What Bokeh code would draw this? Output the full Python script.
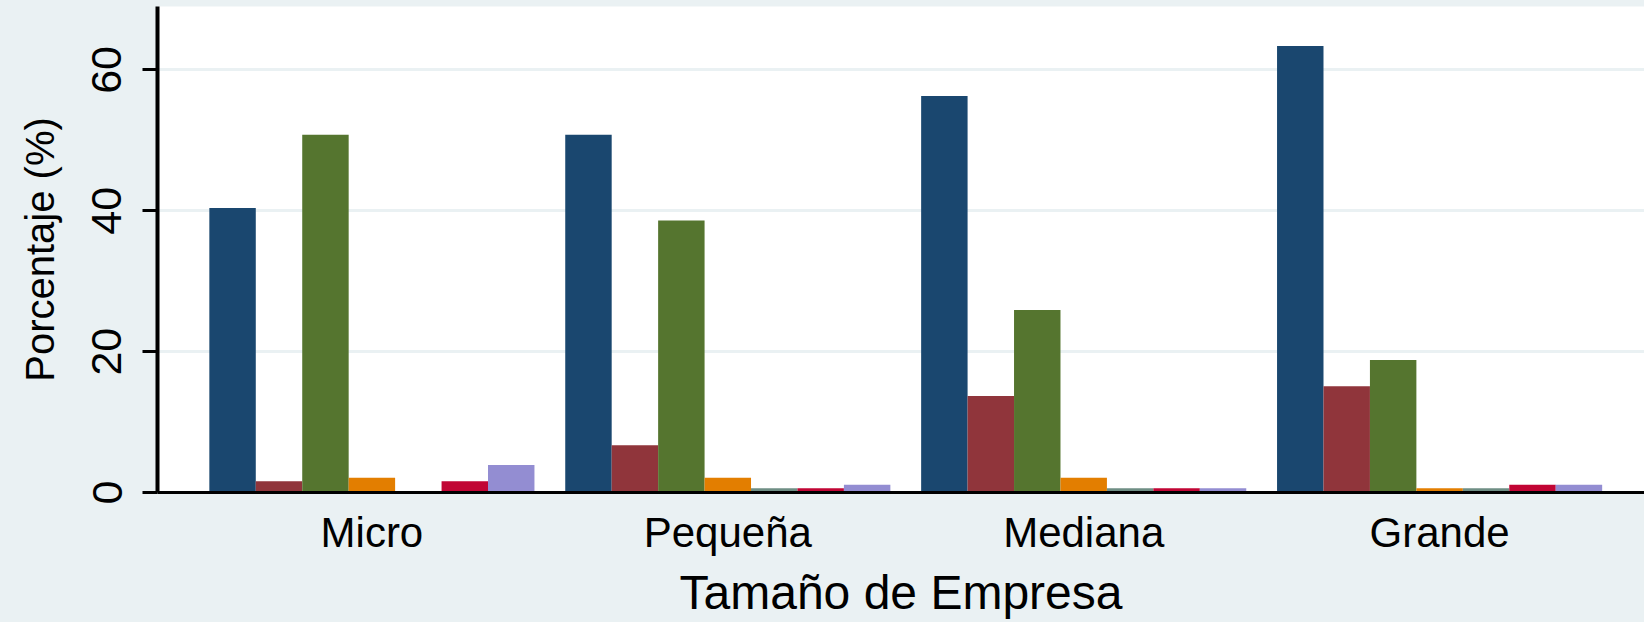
from bokeh.plotting import figure
from bokeh.models import ColumnDataSource, FixedTicker, Range1d
from bokeh.transform import dodge
from bokeh.embed import file_html
from bokeh.resources import INLINE

categories = ["Micro", "Pequeña", "Mediana", "Grande"]
series = ["Serie 1", "Serie 2", "Serie 3", "Serie 4", "Serie 5", "Serie 6", "Serie 7"]
s1 = [40.4, 50.8, 56.3, 63.4]
s2 = [1.6, 6.7, 13.7, 15.1]
s3 = [50.8, 38.6, 25.9, 18.8]
s4 = [2.1, 2.1, 2.1, 0.6]
s5 = [0.0, 0.6, 0.6, 0.6]
s6 = [1.6, 0.6, 0.6, 1.1]
s7 = [3.9, 1.1, 0.6, 1.1]
y_ticks = [0, 20, 40, 60]
grid_ticks = [20, 40, 60]

colors = ["#1A476F", "#90353B", "#55752F", "#E37E00", "#6E8E84", "#C10534", "#938DD2"]
BG = "#EAF1F3"
FONT = "Liberation Sans"

values = [s1, s2, s3, s4, s5, s6, s7]
xpos = list(range(1, len(categories) + 1))
data = {"x": xpos, "cat": categories}
for name, vals in zip(series, values):
    data[name] = vals
source = ColumnDataSource(data)

p = figure(width=1644, height=622, output_backend="svg", toolbar_location=None,
           x_range=Range1d(0.3976, 4.5757), y_range=Range1d(0, 69.0),
           min_border_left=157, min_border_right=0, min_border_top=6, min_border_bottom=130,
           background_fill_color="white", border_fill_color=BG, outline_line_color=None)

bw = 0.1305
n = len(series)
for k, (name, col) in enumerate(zip(series, colors)):
    off = (k - (n - 1) / 2) * bw
    p.vbar(x=dodge("x", off), top=name, width=bw, bottom=0, source=source,
           fill_color=col, line_color=None)

# grid
p.xgrid.visible = False
p.ygrid.ticker = FixedTicker(ticks=grid_ticks)
p.ygrid.grid_line_color = BG
p.ygrid.grid_line_width = 3

# y axis
ya = p.yaxis[0]
ya.ticker = FixedTicker(ticks=y_ticks)
ya.axis_line_width = 4
ya.axis_line_color = "black"
ya.major_tick_out = 15
ya.major_tick_in = 0
ya.major_tick_line_width = 3
ya.major_tick_line_color = "black"
ya.minor_tick_line_color = None
ya.major_label_orientation = "vertical"
ya.major_label_text_font = FONT
ya.major_label_text_font_size = "43px"
ya.major_label_text_color = "black"
ya.major_label_standoff = 21
ya.axis_label = "Porcentaje (%)"
ya.axis_label_text_font = FONT
ya.axis_label_text_font_size = "40px"
ya.axis_label_text_font_style = "normal"
ya.axis_label_text_color = "black"
ya.axis_label_standoff = 28

# x axis
xa = p.xaxis[0]
xa.ticker = FixedTicker(ticks=xpos)
xa.major_label_overrides = {i: c for i, c in zip(xpos, categories)}
xa.axis_line_width = 3
xa.axis_line_color = "black"
xa.major_tick_out = 0
xa.major_tick_in = 0
xa.minor_tick_line_color = None
xa.major_label_text_font = FONT
xa.major_label_text_font_size = "42px"
xa.major_label_text_color = "black"
xa.major_label_standoff = 16
xa.axis_label = "Tamaño de Empresa"
xa.axis_label_text_font = FONT
xa.axis_label_text_font_size = "48px"
xa.axis_label_text_font_style = "normal"
xa.axis_label_text_color = "black"
xa.axis_label_standoff = 7

html = file_html(p, INLINE)
html = html.replace("</head>", "<style>html,body{background-color:%s;}</style></head>" % BG, 1)
open("out.html", "w").write(html)
